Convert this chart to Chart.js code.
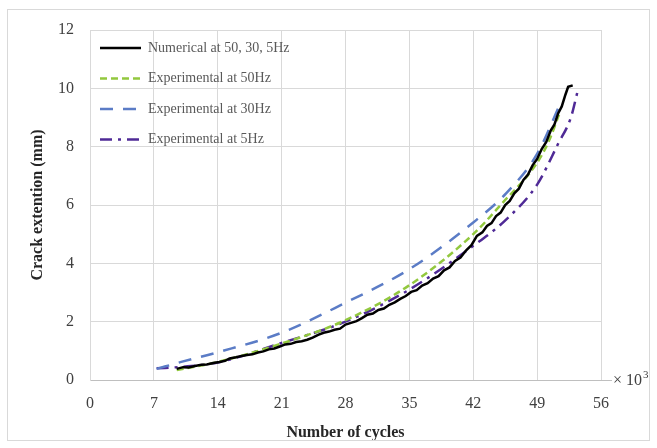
<!DOCTYPE html>
<html>
<head>
<meta charset="utf-8">
<script src="https://cdn.jsdelivr.net/npm/chart.js@4.4.0/dist/chart.umd.min.js"></script>
<style>
  html, body { margin: 0; padding: 0; background: #fff; }
  #wrap { width: 657px; height: 448px; }
</style>
</head>
<body>
<div id="wrap"><canvas id="grafico" width="657" height="448"></canvas></div>
<script>
// eixo x em milhares de ciclos, eixo y em mm
const xTicks = [0, 7, 14, 21, 28, 35, 42, 49, 56];
const yTicks = [0, 2, 4, 6, 8, 10, 12];

const numX = [9.5, 10.2, 10.8, 11.5, 12.2, 12.8, 13.5, 14.2, 14.8, 15.3, 16, 16.6, 17.2, 17.8, 18.4, 19, 19.6, 20.2, 20.8, 21.4, 22, 22.6, 23.2, 23.8, 24.4, 25, 25.6, 26.2, 26.8, 27.4, 28, 28.6, 29.2, 29.8, 30.4, 31, 31.6, 32.2, 32.8, 33.4, 34, 34.6, 35.2, 35.8, 36.4, 37, 37.6, 38.2, 38.8, 39.4, 40, 40.6, 41.2, 41.8, 42.4, 43, 43.5, 44, 44.5, 45, 45.5, 46, 46.5, 47, 47.5, 48, 48.5, 49, 49.5, 50, 50.5, 50.9, 51.3, 51.7, 52.1, 52.4, 52.9];
const numY = [0.38, 0.44, 0.43, 0.48, 0.52, 0.53, 0.58, 0.62, 0.66, 0.74, 0.78, 0.82, 0.86, 0.88, 0.94, 0.98, 1.05, 1.08, 1.15, 1.22, 1.24, 1.30, 1.33, 1.38, 1.45, 1.55, 1.62, 1.66, 1.72, 1.76, 1.90, 1.96, 2.02, 2.12, 2.24, 2.28, 2.40, 2.45, 2.58, 2.66, 2.78, 2.88, 3.02, 3.08, 3.24, 3.32, 3.48, 3.56, 3.76, 3.86, 4.08, 4.20, 4.44, 4.62, 4.94, 5.06, 5.28, 5.38, 5.62, 5.74, 6.00, 6.14, 6.40, 6.56, 6.86, 7.04, 7.36, 7.58, 7.92, 8.16, 8.56, 8.76, 9.14, 9.38, 9.78, 10.05, 10.10];

const exp50X = [9.5, 14, 21, 28, 35, 42, 45, 49, 50.3, 51.4];
const exp50Y = [0.34, 0.62, 1.25, 2.05, 3.25, 5.0, 6.0, 7.45, 8.2, 9.1];

const exp30X = [7.3, 10, 14, 21, 28, 35, 42, 45.6, 49, 51.5];
const exp30Y = [0.38, 0.62, 0.95, 1.62, 2.65, 3.8, 5.4, 6.4, 7.75, 9.45];

const exp5X = [7.3, 10, 14, 21, 28, 35, 42, 45.6, 49, 51.3, 52.7, 53.4];
const exp5Y = [0.40, 0.45, 0.60, 1.27, 2.0, 3.1, 4.6, 5.5, 6.7, 8.1, 9.0, 9.85];

const legendLabels = ['Numerical at 50, 30, 5Hz', 'Experimental at 50Hz', 'Experimental at 30Hz', 'Experimental at 5Hz'];

const pares = (xs, ys) => xs.map((x, i) => ({ x: x, y: ys[i] }));

// legenda desenhada dentro da área do gráfico
const legendaPlugin = {
    id: 'legendaInterna',
    afterDatasetsDraw(chart) {
        const ctx = chart.ctx;
        ctx.save();
        chart.data.datasets.forEach((ds, i) => {
            const y = 48 + i * 30.5;
            ctx.strokeStyle = ds.borderColor;
            ctx.lineWidth = ds.borderWidth;
            ctx.setLineDash(ds.borderDash || []);
            ctx.beginPath();
            ctx.moveTo(100, y);
            ctx.lineTo(141, y);
            ctx.stroke();
            ctx.setLineDash([]);
            ctx.fillStyle = '#595959';
            ctx.font = '14px "Liberation Serif"';
            ctx.textBaseline = 'middle';
            ctx.fillText(ds.label, 148, y);
        });
        ctx.restore();
    },
    afterDraw(chart) {
        const ctx = chart.ctx;
        const area = chart.chartArea;
        ctx.save();
        // moldura externa
        ctx.strokeStyle = '#d9d9d9';
        ctx.lineWidth = 1;
        ctx.strokeRect(7.5, 9.5, 642, 431);
        // prolongamento do eixo x e "× 10³"
        ctx.strokeStyle = '#bfbfbf';
        ctx.beginPath();
        ctx.moveTo(area.right, Math.round(area.bottom) + 0.5);
        ctx.lineTo(612, Math.round(area.bottom) + 0.5);
        ctx.stroke();
        ctx.fillStyle = '#404040';
        ctx.font = '16px "Liberation Serif"';
        ctx.textBaseline = 'middle';
        ctx.fillText('× 10', 613, 381);
        ctx.font = '11px "Liberation Serif"';
        ctx.fillText('3', 643, 375);
        ctx.restore();
    }
};

const ctx1 = document.getElementById('grafico').getContext('2d');
new Chart(ctx1, {
    type: 'line',
    data: {
        datasets: [
            {
                label: legendLabels[0],
                data: pares(numX, numY),
                borderColor: '#000000',
                borderWidth: 2.5,
                pointRadius: 0,
                tension: 0,
                fill: false
            },
            {
                label: legendLabels[1],
                data: pares(exp50X, exp50Y),
                borderColor: '#92c83e',
                borderWidth: 2.5,
                borderDash: [7, 4],
                pointRadius: 0,
                cubicInterpolationMode: 'monotone',
                fill: false
            },
            {
                label: legendLabels[2],
                data: pares(exp30X, exp30Y),
                borderColor: '#5b7cc6',
                borderWidth: 2.5,
                borderDash: [13, 10],
                pointRadius: 0,
                cubicInterpolationMode: 'monotone',
                fill: false
            },
            {
                label: legendLabels[3],
                data: pares(exp5X, exp5Y),
                borderColor: '#4f2a96',
                borderWidth: 2.5,
                borderDash: [12, 6, 3, 6],
                pointRadius: 0,
                cubicInterpolationMode: 'monotone',
                fill: false
            }
        ]
    },
    options: {
        responsive: false,
        animation: false,
        layout: { padding: { left: 0, top: 30, right: 56, bottom: 0 } },
        plugins: {
            legend: { display: false },
            tooltip: { enabled: false }
        },
        scales: {
            x: {
                type: 'linear',
                min: 0,
                max: 56,
                afterBuildTicks: s => { s.ticks = xTicks.map(v => ({ value: v })); },
                afterFit: s => { s.height = 68; },
                grid: { color: '#d9d9d9', drawTicks: false },
                border: { color: '#bfbfbf' },
                ticks: {
                    padding: 14,
                    color: '#404040',
                    font: { family: 'Liberation Serif', size: 16 },
                    maxRotation: 0
                },
                title: {
                    display: true,
                    text: 'Number of cycles',
                    color: '#262626',
                    font: { family: 'Liberation Serif', size: 16, weight: 'bold' },
                    padding: { top: 4, bottom: 6 }
                }
            },
            y: {
                min: 0,
                max: 12,
                afterBuildTicks: s => { s.ticks = yTicks.map(v => ({ value: v })); },
                afterFit: s => { s.width = 90; },
                grid: { color: '#d9d9d9', drawTicks: false },
                border: { color: '#d9d9d9' },
                ticks: {
                    padding: 16,
                    color: '#404040',
                    font: { family: 'Liberation Serif', size: 16 }
                },
                title: {
                    display: true,
                    text: 'Crack extention (mm)',
                    color: '#262626',
                    font: { family: 'Liberation Serif', size: 16, weight: 'bold' },
                    padding: { top: 28, bottom: 4 }
                }
            }
        }
    },
    plugins: [legendaPlugin]
});
</script>
</body>
</html>
